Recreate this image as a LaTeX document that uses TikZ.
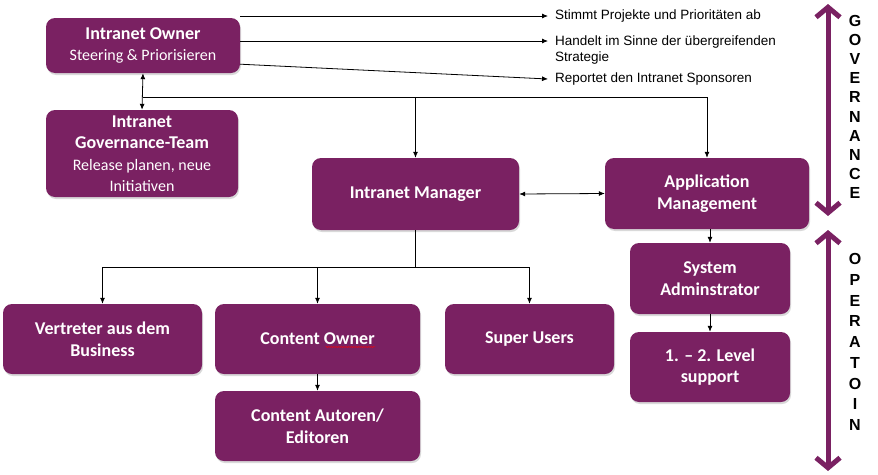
\documentclass[tikz,border=0pt]{standalone}
\usepackage{fontspec}
\setmainfont{Carlito}
\newfontfamily\arialfont{Liberation Sans}
\usetikzlibrary{arrows.meta,positioning,shadows,decorations.pathmorphing}
\definecolor{lila}{RGB}{122,33,98}
\newcommand{\unterzeile}{\mdseries\fontsize{16}{19.5}\selectfont}
\tikzset{
    %Define standard arrow tip
    >={Latex[length=6pt,width=5pt]},
    %Define style for boxes
    kasten/.style={
           rectangle,
           rounded corners=9pt,
           fill=lila,
           text=white,
           align=center,
           font=\bfseries\fontsize{18}{21.5}\selectfont,
           drop shadow={shadow xshift=1pt,shadow yshift=-2pt,opacity=0.3}},
    % Define arrow style
    pil/.style={
           ->,
           line width=0.8pt},
    % side notes and big arrows
    notiz/.style={
           font=\arialfont\fontsize{13.5}{16}\selectfont,
           align=left,
           inner sep=3pt},
    grosspfeil/.style={
           {Straight Barb[length=10pt,width=24pt]}-{Straight Barb[length=10pt,width=24pt]},
           draw=lila,
           line width=5pt},
    buchstaben/.style={
           font=\arialfont\bfseries\fontsize{16}{19.2}\selectfont,
           align=center}
}
\begin{document}
\begin{tikzpicture}[x=1pt,y=-1pt]
 \useasboundingbox (0,0) rectangle (878,474);
 % governance boxes
 \node[kasten, minimum width=194pt, minimum height=55pt] (owner) at (143,45.5)
      {Intranet Owner\\\unterzeile Steering \& Priorisieren};
 \node[kasten, minimum width=192pt, minimum height=87pt] (govteam) at (142,153.5)
      {Intranet\\Governance-Team\\\unterzeile Release planen, neue\\\unterzeile Initiativen};
 \node[kasten, minimum width=207pt, minimum height=72pt] (manager) at (415.5,194) {Intranet Manager};
 \node[kasten, minimum width=204pt, minimum height=71pt] (appmgmt) at (707,193.5) {Application\\Management};
 % operation boxes
 \node[kasten, minimum width=160pt, minimum height=71pt] (sysadmin) at (710,278.5) {System\\Adminstrator};
 \node[kasten, minimum width=160pt, minimum height=70pt] (support) at (710,367) {1. -- 2. Level\\support};
 \node[kasten, minimum width=199pt, minimum height=70pt] (vertreter) at (102.5,339) {Vertreter aus dem\\Business};
 \node[kasten, minimum width=205pt, minimum height=70pt] (cowner) at (317.5,339) {Content Owner};
 \node[kasten, minimum width=169pt, minimum height=70pt] (superusers) at (529.5,339) {Super Users};
 \node[kasten, minimum width=205pt, minimum height=70pt] (autoren) at (317.5,426) {Content Autoren/\\Editoren};
 \draw[red, line width=0.4pt, decorate, decoration={snake,amplitude=0.6pt,segment length=2.5pt}]
      ([xshift=8pt,yshift=-8pt]cowner.center) -- ([xshift=58pt,yshift=-8pt]cowner.center);
 % notes of the owner
 \coordinate (z1) at (548,16);
 \coordinate (z2) at (548,41);
 \coordinate (z3) at (548,79);
 \node[notiz, right=4pt of z1] (t1) {Stimmt Projekte und Prioritäten ab};
 \node[notiz, anchor=north west] (t2) at ([xshift=4pt,yshift=8pt]z2) {Handelt im Sinne der übergreifenden\\Strategie};
 \node[notiz, right=4pt of z3] (t3) {Reportet den Intranet Sponsoren};
 \draw[pil] (owner.north east |- z1) -- (z1);
 \draw[pil] (owner.east |- z2) -- (z2);
 \draw[pil] ([yshift=9pt]owner.south east) -- (z3);
 % connectors
 \coordinate (bus1) at (0,97);
 \coordinate (bus2) at (0,267);
 \draw[pil, <->] (owner.south) -- (govteam.north);
 \draw[pil] (owner.south |- bus1) -| (manager.north);
 \draw[pil] (manager.north |- bus1) -| (appmgmt.north);
 \draw[pil, <->] (manager.east) -- (appmgmt.west);
 \draw[line width=0.8pt] (manager.south) -- (manager.south |- bus2);
 \draw[pil] (manager.south |- bus2) -| (vertreter.north);
 \draw[pil] (cowner.north |- bus2) -- (cowner.north);
 \draw[pil] (manager.south |- bus2) -| (superusers.north);
 \draw[pil] (cowner.south) -- (autoren.north);
 \draw[pil] (appmgmt.south -| sysadmin.north) -- (sysadmin.north);
 \draw[pil] (sysadmin.south) -- (support.north);
 % governance / operation
 \coordinate (govtop) at (828,4);
 \coordinate (govbot) at (828,216);
 \coordinate (optop) at (828,230);
 \coordinate (opbot) at (828,471);
 \draw[grosspfeil] (govtop) -- (govbot);
 \draw[grosspfeil] (optop) -- (opbot);
 \node[buchstaben] (gov) at (855,107) {G\\O\\V\\E\\R\\N\\A\\N\\C\\E};
 \node[buchstaben, font=\arialfont\bfseries\fontsize{16}{20.75}\selectfont] (op) at (855,342) {O\\P\\E\\R\\A\\T\\O\\I\\N};
\end{tikzpicture}
\end{document}
